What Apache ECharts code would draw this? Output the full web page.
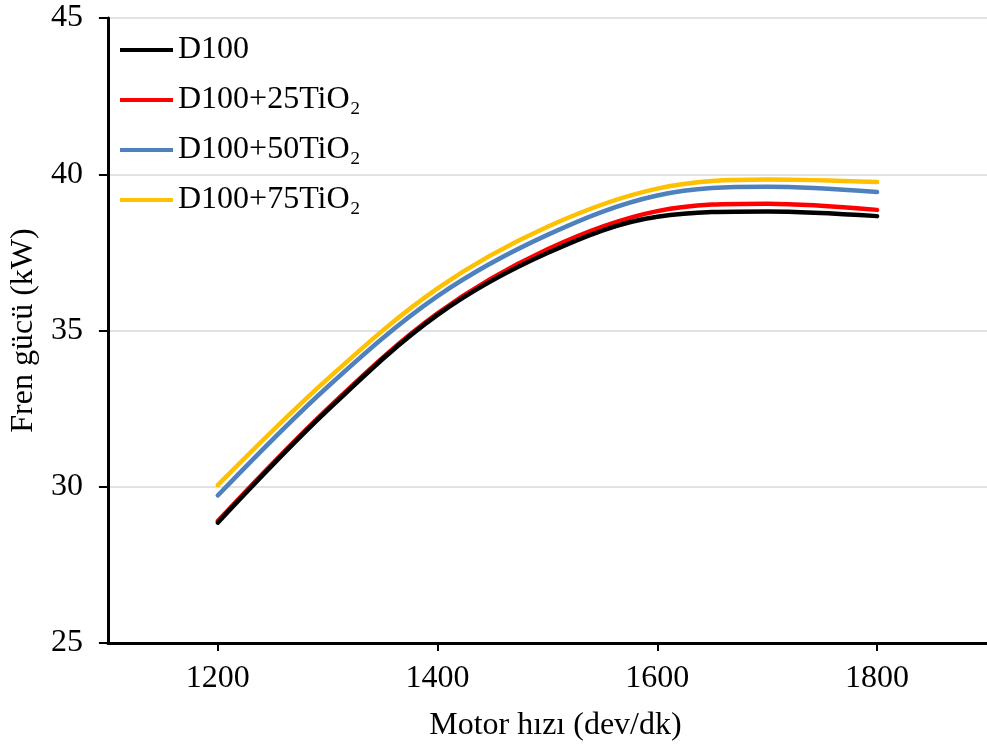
<!DOCTYPE html>
<html>
<head>
<meta charset="utf-8">
<script src="https://cdn.jsdelivr.net/npm/echarts@6/dist/echarts.min.js"></script>
<style>
html,body{margin:0;padding:0;background:#fff;}
#chart{width:987px;height:749px;}
</style>
</head>
<body>
<div id="chart"></div>
<script>
var speeds = [1200, 1300, 1400, 1500, 1600, 1700, 1800];
var seriesNames = ['D100', 'D100+25TiO\u2082', 'D100+50TiO\u2082', 'D100+75TiO\u2082'];
var d100   = [28.85, 32.45, 35.50, 37.48, 38.64, 38.81, 38.66];
var d100t25 = [28.90, 32.50, 35.55, 37.60, 38.82, 39.06, 38.86];
var d100t50 = [29.72, 33.20, 36.10, 38.06, 39.32, 39.60, 39.43];
var d100t75 = [30.05, 33.45, 36.35, 38.32, 39.54, 39.83, 39.75];
var xTicks = [1200, 1400, 1600, 1800];
var yTicks = [25, 30, 35, 40, 45];

var colors = ['#000000', '#FF0000', '#4F81BD', '#FFC000'];
var values = [d100, d100t25, d100t50, d100t75];
var font = "'Liberation Serif', 'Times New Roman', serif";

function pairs(arr) {
  return speeds.map(function (s, i) { return [s, arr[i]]; });
}

var series = seriesNames.map(function (name, k) {
  return {
    name: name,
    type: 'line',
    smooth: 0.35,
    showSymbol: false,
    symbol: 'none',
    data: pairs(values[k]),
    lineStyle: { color: colors[k], width: 4.5, cap: 'round' },
    itemStyle: { color: colors[k] },
    z: 10 - k
  };
});

var chart = echarts.init(document.getElementById('chart'), null, { renderer: 'canvas' });
chart.setOption({
  animation: false,
  backgroundColor: '#ffffff',
  grid: { left: 105, top: 18, width: 885, height: 625, containLabel: false },
  legend: {
    orient: 'vertical',
    left: 120,
    top: 34,
    padding: 0,
    itemWidth: 53,
    itemHeight: 4,
    itemGap: 18,
    icon: 'rect',
    data: seriesNames,
    textStyle: { fontFamily: font, fontSize: 32, color: '#000', lineHeight: 32 }
  },
  xAxis: {
    type: 'value',
    min: 1100,
    max: 1900,
    name: 'Motor h\u0131z\u0131 (dev/dk)',
    nameLocation: 'middle',
    nameGap: 67,
    nameTextStyle: { fontFamily: font, fontSize: 32, color: '#000', padding: [0, 0, 0, 16] },
    axisLine: { show: true, lineStyle: { color: '#000', width: 3 } },
    axisTick: { show: true, length: 8, lineStyle: { color: '#000', width: 2 }, customValues: xTicks },
    axisLabel: {
      fontFamily: font, fontSize: 32, color: '#000', margin: 20, customValues: xTicks,
      formatter: function (v) { return String(v); }
    },
    splitLine: { show: false }
  },
  yAxis: {
    type: 'value',
    min: 25,
    max: 45,
    interval: 5,
    name: 'Fren g\u00fcc\u00fc (kW)',
    nameLocation: 'middle',
    nameGap: 64,
    nameRotate: 90,
    nameTextStyle: { fontFamily: font, fontSize: 32, color: '#000' },
    axisLine: { show: true, lineStyle: { color: '#000', width: 3 } },
    axisTick: { show: true, length: 9, lineStyle: { color: '#000', width: 2 }, customValues: yTicks },
    axisLabel: { fontFamily: font, fontSize: 32, color: '#000', margin: 25, customValues: yTicks },
    splitLine: { show: true, lineStyle: { color: '#D9D9D9', width: 1.5 } }
  },
  series: series
});
</script>
</body>
</html>
